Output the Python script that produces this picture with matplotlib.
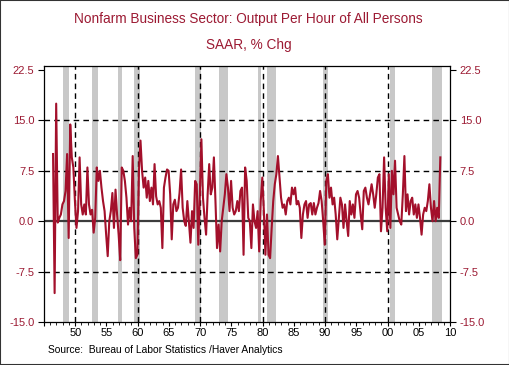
"""
productivity_chart.py

Nonfarm business sector productivity (output per hour of all persons),
quarterly % change at a seasonally adjusted annual rate, 1947-2009, with NBER
recessions shaded. Haver-style layout: red labels on both y axes, dashed grid.

Output: out.png (510x365)
"""

import matplotlib

matplotlib.use("Agg")
import matplotlib.pyplot as plt  # noqa: E402
import numpy as np  # noqa: E402
from matplotlib.patches import Rectangle  # noqa: E402
from matplotlib.ticker import FuncFormatter, MultipleLocator  # noqa: E402

# --------------------------------------------------------------------------- #
# Data
# --------------------------------------------------------------------------- #

FIRST_QUARTER = 1947.25  # 1947Q2, the first % change
# Haver draws each quarter a bit left of its year tick; this is that lag.
PLOT_SHIFT = 0.8

# quarterly SAAR % change, 1947Q2 .. 2009Q2, one row per calendar year
productivity = [
    10.0, -10.7, 17.5,                       # 1947 (Q2-Q4)
    -0.2, 0.5, 1.0, 2.5,                     # 1948
    3.0, 4.5, 10.0, -2.5,                    # 1949
    14.4, 9.5, 8.0, 3.0,                     # 1950
    -1.0, 1.5, 9.5, 2.5,                     # 1951
    1.0, 2.5, 1.0, 8.0,                      # 1952
    2.5, 1.0, 1.7, -1.7,                     # 1953
    0.5, 8.0, 6.0, 7.5,                      # 1954
    5.0, 3.0, 1.5, -2.0,                     # 1955
    -5.2, 0.0, 1.5, 4.2,                     # 1956
    -1.0, 4.7, 1.0, -2.0,                    # 1957
    -5.8, 8.0, 7.5, 6.0,                     # 1958
    3.5, -0.5, 2.0, 0.0,                     # 1959
    9.7, -1.0, -5.5, -5.0,                   # 1960
    7.5, 12.0, 7.5, 5.0,                     # 1961
    6.5, 3.5, 6.0, 3.0,                      # 1962
    5.0, 2.5, 8.5, 3.7,                      # 1963
    2.5, 3.0, 2.0, -4.0,                     # 1964
    5.0, 6.5, 7.7, 7.5,                      # 1965
    4.0, -2.7, 2.5, 3.2,                     # 1966
    1.5, 2.0, 4.2, 7.7,                      # 1967
    2.0, 0.0, -0.7, 3.0,                     # 1968
    0.0, -3.2, 1.5, -1.0,                    # 1969
    6.0, 5.5, -3.5, 4.0,                     # 1970
    12.2, 3.5, 0.5, -2.0,                    # 1971
    4.0, 8.5, 4.0, 5.0,                      # 1972
    9.5, 3.0, -4.0, -0.5,                    # 1973
    -4.5, 0.0, 2.0, 4.0,                     # 1974
    7.0, 5.0, 1.5, 6.0,                      # 1975
    2.0, 1.0, 1.5, 3.0,                      # 1976
    1.5, 4.5, 5.0, -5.0,                     # 1977
    8.0, 6.0, 0.5, 0.0,                      # 1978
    -4.0, 2.5, 0.0, -1.0,                    # 1979
    1.5, -4.5, 3.0, 6.5,                     # 1980
    1.5, -5.0, 1.0, -5.0,                    # 1981
    -5.5, -1.0, 3.0, 5.5,                    # 1982
    7.0, 9.7, 6.5, 3.5,                      # 1983
    2.0, 2.5, 1.0, 3.0,                      # 1984
    3.5, 2.5, 5.0, 4.0,                      # 1985
    5.0, 2.5, 3.0, 2.0,                      # 1986
    -2.5, 1.0, 2.5, 3.0,                     # 1987
    0.5, 2.5, 2.7, 1.0,                      # 1988
    2.7, 1.0, 2.0, 2.7,                      # 1989
    4.5, 3.0, 0.0, -3.5,                     # 1990
    6.0, 7.0, 3.5, 5.0,                      # 1991
    2.5, 3.5, 1.0, -2.7,                     # 1992
    0.5, 3.5, 2.5, -1.0,                     # 1993
    2.5, 0.0, -2.2, 3.0,                     # 1994
    1.0, 2.5, 0.5, 4.0,                      # 1995
    4.5, 3.5, 1.0, -1.2,                     # 1996
    4.5, 5.0, 3.5, 2.5,                      # 1997
    4.0, 5.5, 4.0, 2.0,                      # 1998
    4.0, 6.5, 7.0, -1.5,                     # 1999
    2.0, 9.5, 2.0, -1.5,                     # 2000
    7.0, -1.0, 7.5, 4.0,                     # 2001
    9.0, 2.0, 1.0, 0.0,                      # 2002
    -0.5, 4.0, 9.7, 1.5,                     # 2003
    4.0, 1.0, 3.0, 3.5,                      # 2004
    1.0, 2.5, 0.5, 2.5,                      # 2005
    0.5, -2.0, 1.0, 2.0,                     # 2006
    1.5, 3.0, 5.5, 2.0,                      # 2007
    0.0, 3.0, 0.0, 2.0,                      # 2008
    0.5, 9.5,                                # 2009 (Q1-Q2)
]

# NBER recessions as (peak year, peak month, trough year, trough month)
recessions = [
    (1948, 11, 1949, 10),
    (1953, 7, 1954, 5),
    (1957, 8, 1958, 4),
    (1960, 4, 1961, 2),
    (1969, 12, 1970, 11),
    (1973, 11, 1975, 3),
    (1980, 1, 1980, 7),
    (1981, 7, 1982, 11),
    (1990, 7, 1991, 3),
    (2001, 3, 2001, 11),
    (2007, 12, 2009, 6),
]

y_ticks = [-15.0, -7.5, 0.0, 7.5, 15.0, 22.5]
decade_lines = [1950, 1960, 1970, 1980, 1990, 2000]

TITLE = "Nonfarm Business Sector: Output Per Hour of All Persons"
SUBTITLE = "SAAR, % Chg"
SOURCE = "Source:  Bureau of Labor Statistics /Haver Analytics"

# --------------------------------------------------------------------------- #
# Style
# --------------------------------------------------------------------------- #

RED = "#a3102b"
LABEL_RED = "#9c1a33"
SHADE = "#c8c8c8"
plt.rcParams["font.family"] = ["Liberation Sans", "DejaVu Sans"]


def plot_chart(path):
    """Draw the Haver-style productivity chart and save it."""
    x = FIRST_QUARTER - PLOT_SHIFT + 0.25 * np.arange(len(productivity))

    fig = plt.figure(figsize=(5.1, 3.65), dpi=100)
    ax = fig.add_axes([44 / 510, 1 - 322 / 365, 406 / 510, 256 / 365])

    for y0, m0, y1, m1 in recessions:
        start = y0 + (m0 - 1) / 12 - PLOT_SHIFT
        end = y1 + m1 / 12 - PLOT_SHIFT
        ax.axvspan(start, end, color=SHADE, lw=0, zorder=0)

    for v in (-7.5, 7.5, 15.0):
        ax.axhline(v, color="black", lw=1.0, ls=(0, (4, 3)), zorder=1)
    for yr in decade_lines:
        ax.axvline(yr, color="black", lw=1.0, ls=(0, (4, 3)), zorder=1)
    ax.axhline(0, color="#3c3c3c", lw=1.6, zorder=2)

    ax.plot(x, productivity, color=RED, lw=1.5, zorder=3)

    ax.set_xlim(1945.0, 2010.0)
    ax.set_ylim(-15.0, 23.1)
    ax.set_yticks(y_ticks)
    ax.yaxis.set_major_formatter(FuncFormatter(lambda v, _: f"{v:.1f}"))
    ax.xaxis.set_major_locator(MultipleLocator(5))
    ax.xaxis.set_minor_locator(MultipleLocator(1))
    ax.xaxis.set_major_formatter(
        FuncFormatter(lambda v, _: "" if v < 1947 else f"{int(round(v)) % 100:02d}")
    )

    ax.tick_params(axis="y", which="both", direction="out", length=4, width=0.8,
                   left=True, right=True, labelleft=True, labelright=True,
                   labelsize=8, labelcolor=LABEL_RED, pad=3)
    ax.tick_params(axis="x", which="major", direction="out", length=3, width=0.8,
                   labelsize=8, pad=1)
    ax.tick_params(axis="x", which="minor", direction="out", length=2, width=0.6)
    for spine in ax.spines.values():
        spine.set_linewidth(0.9)

    fig.text(0.487, 1 - 19 / 365, TITLE, ha="center", va="center",
             fontsize=9.8, color=LABEL_RED)
    fig.text(0.487, 1 - 45 / 365, SUBTITLE, ha="center", va="center",
             fontsize=9.8, color=LABEL_RED)
    fig.text(48 / 510, 1 - 350 / 365, SOURCE, ha="left", va="center",
             fontsize=7.4, color="black")

    fig.patches.append(Rectangle((0, 0), 1, 1, transform=fig.transFigure,
                                 fill=False, edgecolor="#333333", lw=1.5))

    fig.savefig(path, dpi=100)
    plt.close(fig)


def main():
    plot_chart("out.png")


if __name__ == "__main__":
    main()
